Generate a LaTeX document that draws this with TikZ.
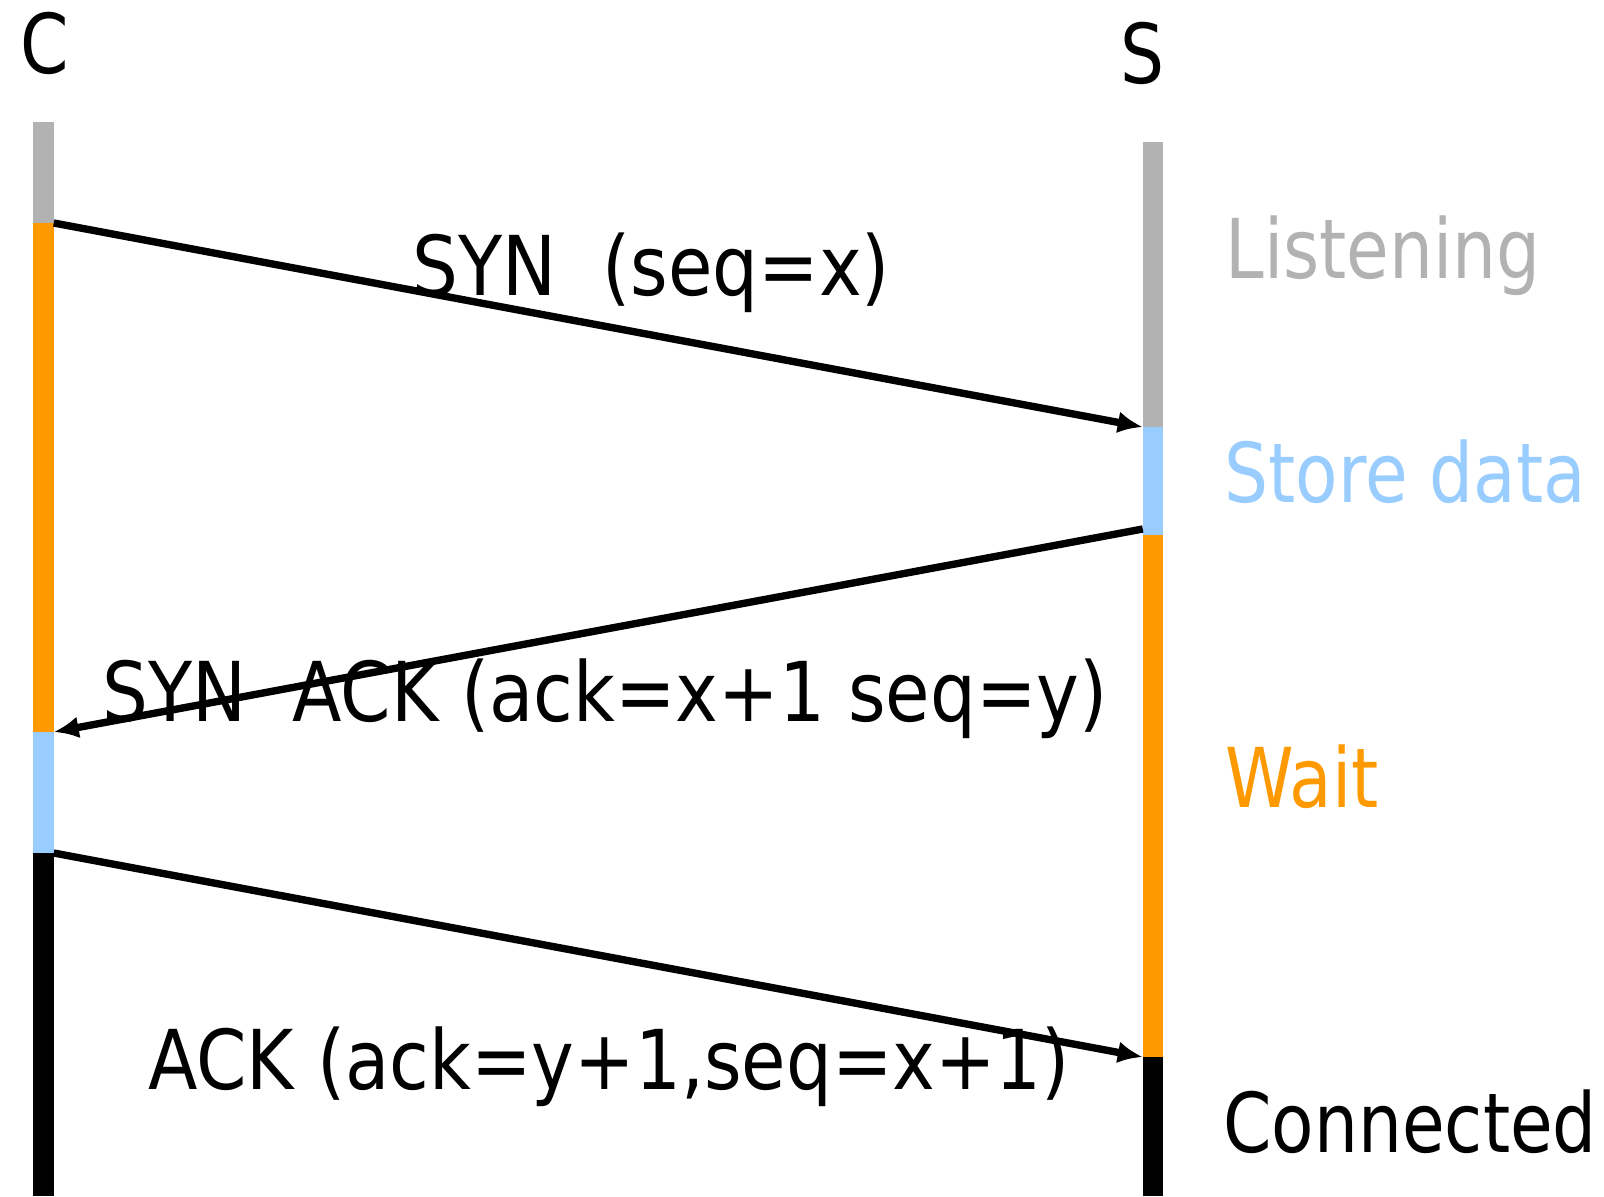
\documentclass[tikz,border=0pt]{standalone}
\usepackage{fontspec}
\setmainfont{DejaVu Sans}[FakeStretch=0.84]
\newfontfamily\msgfont{DejaVu Sans}[FakeStretch=0.875]
\usetikzlibrary{arrows.meta,positioning}
\definecolor{idlegray}{HTML}{B2B2B2}
\definecolor{waitorange}{HTML}{FF9900}
\definecolor{storeblue}{HTML}{99CCFF}

\begin{document}
\begin{tikzpicture}[
        x=0.02cm, y=-0.02cm,
        % --- styles ---
        seg/.style 2 args={rectangle, fill=#1, inner sep=0pt, outer sep=0pt,
                           minimum width=0.41cm, minimum height=#2*0.02cm, anchor=north},
        lbl/.style={inner sep=0pt, anchor=base west, font=\fontsize{47pt}{56pt}\selectfont},
        msglbl/.style={lbl, font=\msgfont\fontsize{47pt}{56pt}\selectfont},
        msg/.style={draw, line width=4.2pt, -{Latex[length=0.5cm, width=0.44cm]}}
    ]
    \useasboundingbox (0,0) rectangle (1604,1196);

    % --- client timeline ---
    \node[seg={idlegray}{101}] (cidle) at (43.5,122) {};
    \node[seg={waitorange}{509}, below=0pt of cidle] (cwait) {};
    \node[seg={storeblue}{121}, below=0pt of cwait] (cstore) {};
    \node[seg={black}{343}, below=0pt of cstore] (cdone) {};

    % --- server timeline ---
    \node[seg={idlegray}{285}] (sidle) at (1153,142) {};
    \node[seg={storeblue}{108}, below=0pt of sidle] (sstore) {};
    \node[seg={waitorange}{522}, below=0pt of sstore] (swait) {};
    \node[seg={black}{139}, below=0pt of swait] (sdone) {};

    % --- ends and states ---
    \node[lbl] (client) at (20,74) {C};
    \node[lbl, anchor=base] (server) at (1142,84) {S};
    \node[lbl, text=idlegray] (tlisten) at (1225,278) {Listening};
    \node[lbl, text=storeblue] (tstore) at (1224,502) {Store data};
    \node[lbl, text=waitorange] (twait) at (1225,807) {Wait};
    \node[lbl] (tconn) at (1223,1152) {Connected};

    % --- messages ---
    \draw[msg] (cwait.north east) -- (sstore.north west);
    \draw[msg] ([yshift=0.12cm]sstore.south west) -- (cstore.north east);
    \draw[msg] (cdone.north east) -- (swait.south west);

    \node[msglbl] (tsyn) at (412,295) {SYN\ \ (seq=x)};
    \node[msglbl] (tsynack) at (102,721) {SYN\ \ ACK (ack=x+1 seq=y)};
    \node[msglbl] (tack) at (148,1089) {ACK (ack=y+1,seq=x+1)};

\end{tikzpicture}
\end{document}
